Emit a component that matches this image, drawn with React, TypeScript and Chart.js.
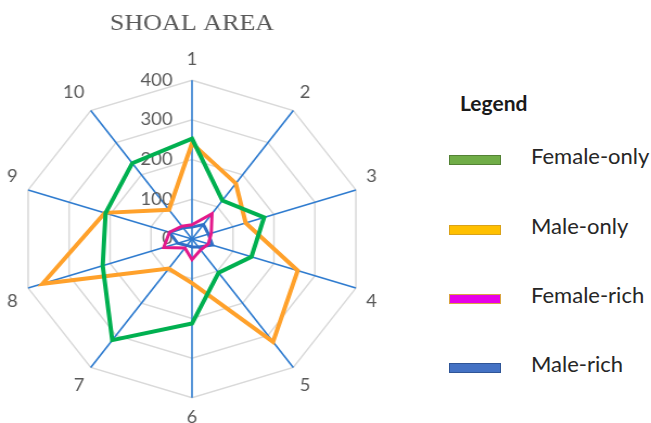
import React, { useEffect, useRef } from "react";
import { Chart, registerables } from "chart.js";

Chart.register(...registerables);

const axisLabels = ["1", "2", "3", "4", "5", "6", "7", "8", "9", "10"];
const tickValues = [0, 100, 200, 300, 400];
const femaleOnly = [253, 120, 176, 145, 105, 213, 315, 218, 211, 236];
const maleOnly = [241, 173, 131, 258, 320, 111, 92, 365, 213, 91];
const femaleRich = [36, 79, 47, 40, 34, 52, 28, 69, 55, 40];
const maleRich = [30, 45, 40, 50, 25, 20, 20, 35, 55, 35];

const seriesNames = ["Female-only", "Male-only", "Female-rich", "Male-rich"];
const lineColors = ["#00B050", "#FFA12B", "#E3198B", "#2F6FC6"];
const legendFill = ["#70AD47", "#FFC000", "#E600E8", "#4472C4"];
const legendBorder = ["#548235", "#D9A21A", "#D9A441", "#2F5597"];

const SCALE_X = 1.085;
const CANVAS_W = 380;
const CANVAS_H = 429;

const tickLabelPlugin = {
  id: "tickLabelPlugin",
  beforeDatasetsDraw(chart: any) {
    const r = chart.scales.r;
    const ctx = chart.ctx;
    ctx.save();
    ctx.font = "17px Lato";
    ctx.fillStyle = "#595959";
    ctx.textAlign = "right";
    ctx.textBaseline = "middle";
    tickValues.forEach((v) => {
      const y = r.yCenter - r.getDistanceFromCenterForValue(v);
      ctx.fillText(String(v), r.xCenter - 18, y);
    });
    ctx.restore();
  },
};

export default function App() {
  const canvasRef = useRef<HTMLCanvasElement | null>(null);

  useEffect(() => {
    if (!canvasRef.current) return;
    const data = [femaleOnly, maleOnly, femaleRich, maleRich];
    const widths = [4, 4, 3, 3];
    const orders = [2, 3, 0, 1];
    const chart = new Chart(canvasRef.current, {
      type: "radar",
      data: {
        labels: axisLabels,
        datasets: data.map((d, i) => ({
          label: seriesNames[i],
          data: d,
          borderColor: lineColors[i],
          backgroundColor: lineColors[i],
          borderWidth: widths[i],
          fill: false,
          pointRadius: 0,
          tension: 0,
          order: orders[i],
        })),
      },
      options: {
        responsive: false,
        animation: false,
        layout: { padding: { top: 1, bottom: 0, left: 0, right: 0 } },
        plugins: {
          legend: { display: false },
          tooltip: { enabled: false },
          title: {
            display: true,
            text: "SHOAL AREA",
            color: "#595959",
            font: { family: "'Liberation Serif', serif", size: 24, weight: "normal" },
            padding: { top: 8, bottom: 12 },
          },
        },
        scales: {
          r: {
            min: 0,
            max: 400,
            ticks: { stepSize: 100, display: false },
            grid: { color: "#D9D9D9", lineWidth: 1.5, circular: false },
            angleLines: { color: "#2E7BCF", lineWidth: 1.6 },
            pointLabels: {
              color: "#595959",
              font: { family: "Lato", size: 17 },
              padding: 10,
            },
          },
        },
      },
      plugins: [tickLabelPlugin],
    });
    return () => chart.destroy();
  }, []);

  const rows = [160, 229.5, 299, 368];

  return (
    <div
      style={{
        position: "fixed",
        left: 0,
        top: 0,
        width: 651,
        height: 423,
        overflow: "hidden",
        background: "#ffffff",
        fontFamily: "Lato, sans-serif",
      }}
    >
      <div
        style={{
          position: "absolute",
          left: 191.7 - CANVAS_W / 2,
          top: 0,
          width: CANVAS_W,
          height: CANVAS_H,
          transform: `scaleX(${SCALE_X})`,
          transformOrigin: `${CANVAS_W / 2}px 0px`,
        }}
      >
        <canvas
          ref={canvasRef}
          width={CANVAS_W}
          height={CANVAS_H}
          style={{ display: "block", width: CANVAS_W, height: CANVAS_H }}
        />
      </div>
      <div
        style={{
          position: "absolute",
          left: 460,
          top: 102,
          transform: "translateY(-50%)",
          fontWeight: 700,
          fontSize: 21,
          color: "#1a1a1a",
          lineHeight: 1,
          whiteSpace: "nowrap",
        }}
      >
        Legend
      </div>
      {seriesNames.map((name, i) => (
        <React.Fragment key={name}>
          <div
            style={{
              position: "absolute",
              left: 449,
              top: rows[i] - 5,
              width: 50,
              height: 8,
              background: legendFill[i],
              border: `1px solid ${legendBorder[i]}`,
            }}
          />
          <div
            style={{
              position: "absolute",
              left: 531,
              top: rows[i] - 4,
              transform: "translateY(-50%)",
              fontSize: 22,
              color: "#262626",
              lineHeight: 1,
              whiteSpace: "nowrap",
            }}
          >
            {name}
          </div>
        </React.Fragment>
      ))}
    </div>
  );
}
